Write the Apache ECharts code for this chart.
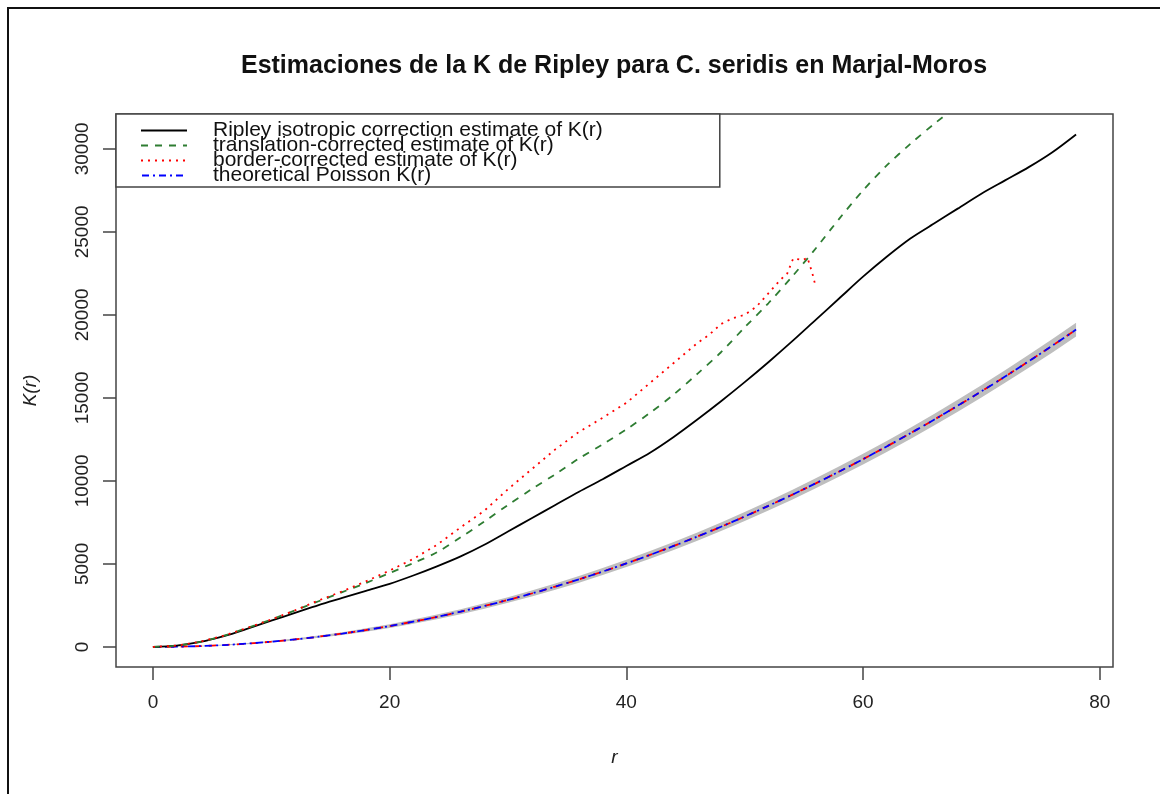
<!DOCTYPE html>
<html>
<head>
<meta charset="utf-8">
<script src="https://cdn.jsdelivr.net/npm/echarts@6/dist/echarts.min.js"></script>
<style>
html,body{margin:0;padding:0;background:#fff}
#chart{width:1160px;height:794px}
</style>
</head>
<body>
<div id="chart"></div>
<script>
// r grid (step 2) shared by the smooth curves
var rGrid = [0,2,4,6,8,10,12,14,16,18,20,22,24,26,28,30,32,34,36,38,40,42,44,46,48,50,52,54,56,58,60,62,64,66,68,70,72,74,76,78];
var kIso = [0,80,300,650,1100,1580,2050,2520,2950,3380,3800,4300,4850,5450,6150,6950,7750,8550,9350,10100,10900,11700,12650,13700,14800,15950,17150,18400,19700,21000,22300,23500,24600,25500,26400,27300,28100,28900,29800,30870];
var kTrans = [0,80,310,680,1150,1650,2200,2750,3300,3850,4450,5050,5700,6600,7550,8550,9500,10400,11350,12200,13100,14100,15200,16450,17750,19250,20700,22300,24000,25800,27500,29000,30300,31500,32600,33700,34800,35800,36800,37700];
var kTheo = [0,13,50,113,201,314,452,616,804,1018,1257,1521,1810,2124,2463,2827,3217,3632,4072,4536,5027,5542,6082,6648,7238,7854,8495,9161,9852,10568,11310,12076,12868,13685,14527,15394,16286,17203,18146,19113];
var bandHalf = [0,10,20,30,40,50,60,70,85,100,115,125,140,150,160,170,180,190,200,210,220,230,240,250,260,270,280,290,300,310,320,330,340,350,360,370,380,390,405,420];

// border-corrected estimate stops near r = 56
var rBorder = [0,2,4,6,8,10,12,14,16,18,20,22,24,26,28,30,32,34,36,38,40,42,43,44,45,46,47,48,49,50,51,52,53,53.6,54.1,54.9,55.3,55.7,56];
var kBorder = [0,80,310,680,1150,1650,2200,2800,3350,3950,4600,5300,6150,7200,8200,9500,10700,11900,12950,13800,14700,15900,16500,17100,17700,18300,18800,19450,19800,20000,20500,21300,22100,22500,23400,23300,23450,22550,21700];

var xTicks = [0,20,40,60,80];
var yTicks = [0,5000,10000,15000,20000,25000,30000];

var legendNames = [
  'Ripley isotropic correction estimate of K(r)',
  'translation-corrected estimate of K(r)',
  'border-corrected estimate of K(r)',
  'theoretical Poisson K(r)'
];

function pairs(xs, ys) {
  var out = [];
  for (var i = 0; i < xs.length; i++) out.push([xs[i], ys[i]]);
  return out;
}

var FONT = '"Liberation Sans", Arial, sans-serif';
var chart = echarts.init(document.getElementById('chart'));

var option = {
  backgroundColor: '#fff',
  animation: false,
  grid: { left: 116, top: 114, right: 47, bottom: 127, show: true, borderColor: '#444', borderWidth: 1.5, backgroundColor: 'transparent' },
  xAxis: {
    type: 'value', min: -3.12, max: 81.12,
    name: 'r', nameLocation: 'middle', nameGap: 81,
    nameTextStyle: { fontFamily: FONT, fontSize: 19, fontStyle: 'italic', color: '#222' },
    axisLine: { show: false, onZero: false },
    axisTick: { show: true, length: 13, lineStyle: { color: '#444', width: 1.5 }, customValues: xTicks },
    axisLabel: { fontFamily: FONT, fontSize: 19, color: '#222', margin: 26, customValues: xTicks },
    splitLine: { show: false }
  },
  yAxis: {
    type: 'value', min: -1210, max: 32100,
    name: 'K(r)', nameLocation: 'middle', nameGap: 76,
    nameTextStyle: { fontFamily: FONT, fontSize: 19, fontStyle: 'italic', color: '#222' },
    axisLine: { show: false, onZero: false },
    axisTick: { show: true, length: 13, lineStyle: { color: '#444', width: 1.5 }, customValues: yTicks },
    axisLabel: { fontFamily: FONT, fontSize: 19, color: '#222', margin: 24, rotate: 90, customValues: yTicks,
      formatter: function (v) { return String(v); } },
    splitLine: { show: false }
  },
  legend: {
    data: legendNames,
    orient: 'vertical',
    left: 116, top: 114,
    padding: [6, 117, 1, 24],
    itemGap: -6,
    itemWidth: 46, itemHeight: 10,
    itemStyle: { opacity: 0 },
    backgroundColor: '#fff',
    borderColor: '#444', borderWidth: 1.5, borderRadius: 0,
    selectedMode: false,
    textStyle: { fontFamily: FONT, fontSize: 21, color: '#111', lineHeight: 15, padding: [0, 0, 0, 21] }
  },
  graphic: [
    { type: 'polyline', shape: { points: [[8, 800], [8, 8], [1170, 8]] }, style: { stroke: '#111', lineWidth: 2, fill: null }, z: 100 },
    { type: 'text', x: 614, y: 66, style: { text: 'Estimaciones de la K de Ripley para C. seridis en Marjal-Moros', font: 'bold 25px ' + FONT, fill: '#111', align: 'center', verticalAlign: 'middle' } }
  ],
  series: [
    {
      name: 'envelope', type: 'custom', silent: true, z: 1,
      data: [[0, 0]],
      renderItem: function (params, api) {
        var upper = [], lower = [];
        for (var i = 0; i < rGrid.length; i++) {
          upper.push(api.coord([rGrid[i], kTheo[i] + bandHalf[i]]));
          lower.push(api.coord([rGrid[i], kTheo[i] - bandHalf[i]]));
        }
        return { type: 'polygon', shape: { points: upper.concat(lower.reverse()) }, style: { fill: '#bebebe' } };
      }
    },
    { name: 'theoRed', type: 'line', data: pairs(rGrid, kTheo), symbol: 'none', smooth: 0.3, color: '#ff0000', lineStyle: { color: '#ff0000', width: 1.8, type: [7, 7] }, z: 2 },
    { name: legendNames[3], type: 'line', data: pairs(rGrid, kTheo), symbol: 'none', smooth: 0.3, color: '#0000ff', lineStyle: { color: '#0000ff', width: 1.8, type: [2, 4, 7, 4], dashOffset: 5 }, z: 3 },
    { name: legendNames[0], type: 'line', data: pairs(rGrid, kIso), symbol: 'none', smooth: 0.3, color: '#000', lineStyle: { color: '#000', width: 1.8 }, z: 4 },
    { name: legendNames[1], type: 'line', data: pairs(rGrid, kTrans), symbol: 'none', smooth: 0.3, color: '#2e7d32', lineStyle: { color: '#2e7d32', width: 1.8, type: [7, 7] }, z: 4 },
    { name: legendNames[2], type: 'line', data: pairs(rBorder, kBorder), symbol: 'none', color: '#ff0000', lineStyle: { color: '#ff0000', width: 1.8, type: [2, 5] }, z: 4 }
  ]
};
chart.setOption(option);
</script>
</body>
</html>
